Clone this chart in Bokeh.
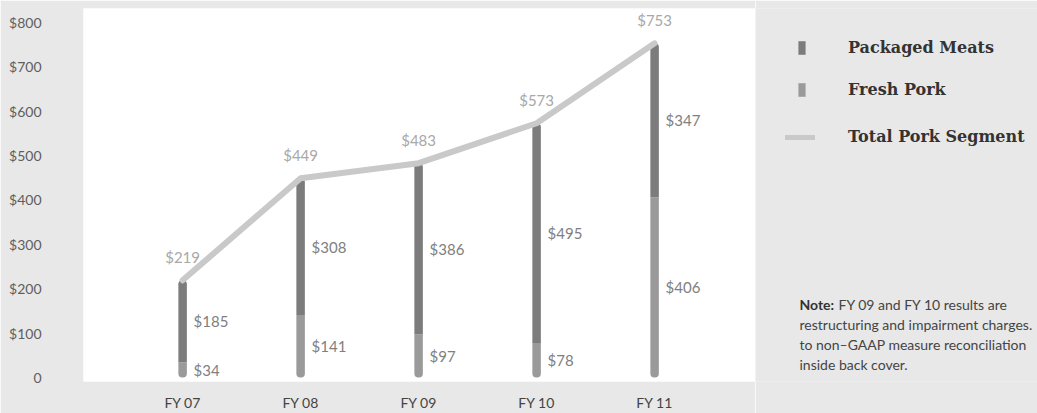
import numpy as np
from bokeh.plotting import figure
from bokeh.layouts import row
from bokeh.models import Range1d, FixedTicker, Legend, LegendItem, Label, ColumnDataSource
from bokeh.core.properties import value
from bokeh.embed import file_html
from bokeh.resources import INLINE

years = ["FY 07", "FY 08", "FY 09", "FY 10", "FY 11"]
packaged_meats = [185, 308, 386, 495, 347]
fresh_pork = [34, 141, 97, 78, 406]
total_pork = [219, 449, 483, 573, 753]
y_ticks = [0, 100, 200, 300, 400, 500, 600, 700, 800]
y_tick_labels = ["0", "$100", "$200", "$300", "$400", "$500", "$600", "$700", "$800"]
legend_labels = ["Packaged Meats", "Fresh Pork", "Total Pork Segment"]
note_head = "Note:"
note_lines = [
    "FY 09 and FY 10 results are",
    "restructuring and impairment charges.",
    "to non\u2013GAAP measure reconciliation",
    "inside back cover.",
]

BG = "#e8e8e8"
FONT = "Lato"
PACK_COLOR = "#7c7c7c"
FRESH_COLOR = "#9a9a9a"
LINE_COLOR = "#c9c9c9"

xs = list(range(len(years)))
src = ColumnDataSource(dict(
    x=xs,
    fresh=fresh_pork,
    pack_top=[f + m for f, m in zip(fresh_pork, packaged_meats)],
    total=total_pork,
    fresh_mid=[f / 2 for f in fresh_pork],
    pack_mid=[f + m / 2 for f, m in zip(fresh_pork, packaged_meats)],
    fresh_lbl=["$%d" % v for v in fresh_pork],
    pack_lbl=["$%d" % v for v in packaged_meats],
    total_lbl=["$%d" % v for v in total_pork],
))

p = figure(width=755, height=413, x_range=Range1d(-0.84, 4.855), y_range=Range1d(-9, 831.5),
           output_backend="svg", toolbar_location=None,
           min_border_left=83, min_border_right=0, min_border_top=8, min_border_bottom=31)
p.background_fill_color = "white"
p.border_fill_color = BG
p.outline_line_color = None
p.xgrid.grid_line_color = None
p.ygrid.grid_line_color = None

p.vbar(x="x", bottom=0, top="fresh", width=0.072, source=src,
       fill_color=FRESH_COLOR, line_color=None, border_radius=(0, 0, 4, 4))
p.vbar(x="x", bottom="fresh", top="pack_top", width=0.072, source=src,
       fill_color=PACK_COLOR, line_color=None, border_radius=(4, 4, 0, 0))
p.line(x="x", y="total", source=src, line_color=LINE_COLOR, line_width=6,
       line_cap="round", line_join="round")

p.text(x="x", y="fresh_mid", text="fresh_lbl", source=src, x_offset=11,
       text_align="left", text_baseline="middle", text_font=value(FONT),
       text_font_size="15px", text_color="#808080")
p.text(x="x", y="pack_mid", text="pack_lbl", source=src, x_offset=11,
       text_align="left", text_baseline="middle", text_font=value(FONT),
       text_font_size="15px", text_color="#808080")
p.text(x="x", y="total", text="total_lbl", source=src, y_offset=-14,
       text_align="center", text_baseline="bottom", text_font=value(FONT),
       text_font_size="15px", text_color="#a8a8a8")

p.xaxis.ticker = FixedTicker(ticks=xs)
p.xaxis.major_label_overrides = {i: y for i, y in zip(xs, years)}
p.yaxis.ticker = FixedTicker(ticks=y_ticks)
p.yaxis.major_label_overrides = {t: l for t, l in zip(y_ticks, y_tick_labels)}
for ax in (p.xaxis, p.yaxis):
    ax.axis_line_color = None
    ax.major_tick_line_color = None
    ax.minor_tick_line_color = None
    ax.major_tick_out = 0
    ax.minor_tick_out = 0
    ax.major_label_text_font = FONT
    ax.major_label_text_font_size = "14px"
p.xaxis.major_label_text_color = "#444444"
p.xaxis.major_label_standoff = 12
p.yaxis.major_label_text_color = "#5e5e5e"
p.yaxis.major_label_standoff = 42

# side panel: legend and note; its frame is aligned with the main frame (page y 8..382)
s = figure(width=282, height=413, x_range=Range1d(755, 1037), y_range=Range1d(382, 8),
           output_backend="svg", toolbar_location=None, x_axis_type=None, y_axis_type=None,
           min_border_left=0, min_border_right=0, min_border_top=8, min_border_bottom=31)
s.background_fill_color = BG
s.border_fill_color = BG
s.outline_line_color = None
s.xgrid.grid_line_color = None
s.ygrid.grid_line_color = None

nan = np.array([np.nan])
d_pack = s.vbar(x=nan, top=nan, width=1, fill_color=PACK_COLOR, line_color=None)
d_fresh = s.vbar(x=nan, top=nan, width=1, fill_color=FRESH_COLOR, line_color=None)
d_line = s.line(x=nan, y=nan, line_color=LINE_COLOR, line_width=5, line_cap="round")

def style_legend(lg):
    lg.background_fill_alpha = 0
    lg.border_line_color = None
    lg.padding = 0
    lg.margin = 0
    lg.label_text_font = "DejaVu Serif"
    lg.label_text_font_style = "bold"
    lg.label_text_font_size = "16px"
    lg.label_text_color = "#333333"
    lg.label_height = 18

leg_a = Legend(items=[LegendItem(label=legend_labels[0], renderers=[d_pack]),
                      LegendItem(label=legend_labels[1], renderers=[d_fresh])],
               location=(42, 282))
style_legend(leg_a)
leg_a.glyph_width = 9
leg_a.glyph_height = 17
leg_a.label_standoff = 42
leg_a.spacing = 23
s.add_layout(leg_a)

leg_b = Legend(items=[LegendItem(label=legend_labels[2], renderers=[d_line])],
               location=(30, 235))
style_legend(leg_b)
leg_b.glyph_width = 30
leg_b.glyph_height = 16
leg_b.label_standoff = 33
s.add_layout(leg_b)

s.add_layout(Label(x=799, y=305, text=note_head, text_font=FONT, text_font_style="bold",
                   text_font_size="14px", text_color="#333333", text_baseline="middle"))
for i, line in enumerate(note_lines):
    s.add_layout(Label(x=838 if i == 0 else 799, y=305 + 20 * i, text=line, text_font=FONT,
                       text_font_size="14px", text_color="#444444", text_baseline="middle"))

layout = row(p, s, spacing=0)
open("out.html", "w").write(file_html(layout, INLINE))
